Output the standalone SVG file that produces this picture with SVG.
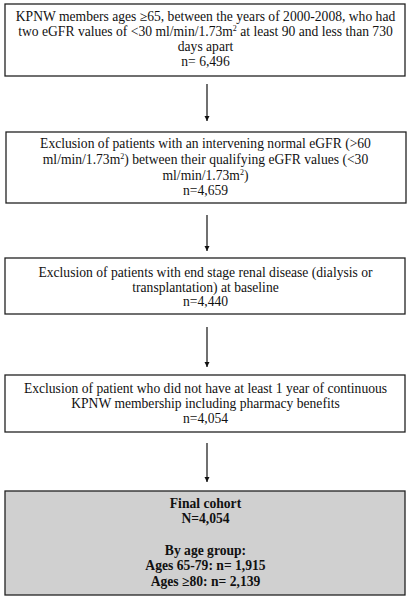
<svg xmlns="http://www.w3.org/2000/svg" width="411" height="600" viewBox="0 0 411 600">
<style>
.box{fill:#fff;stroke:#222;stroke-width:1.3}
.final{fill:#d0d0d0;stroke:#222;stroke-width:1.3}
text{font-family:"Liberation Serif","Times New Roman",serif;font-size:13.6px;fill:#111;text-anchor:middle}
.b{font-weight:bold}
.sup{font-size:8px}
.conn{stroke:#111;stroke-width:1.2;fill:none}
</style>
<defs>
<marker id="ah" viewBox="0 0 10 10" refX="10" refY="5" markerWidth="5" markerHeight="6" markerUnits="userSpaceOnUse" orient="auto">
<path d="M0,0 L10,5 L0,10 z" fill="#111"/>
</marker>
</defs>
<rect width="411" height="600" fill="#fff"/>
<g id="n1">
<rect class="box" x="5" y="4" width="400" height="72"/>
<text x="205.5" y="21">KPNW members ages ≥65, between the years of 2000-2008, who had</text>
<text x="205.5" y="36">two eGFR values of &lt;30 ml/min/1.73m<tspan class="sup" dy="-5">2</tspan><tspan dy="5"> at least 90 and less than 730</tspan></text>
<text x="205.5" y="51">days apart</text>
<text x="205.5" y="66">n= 6,496</text>
</g>
<g id="n2">
<rect class="box" x="6" y="132" width="400" height="71"/>
<text x="205.5" y="148">Exclusion of patients with an intervening normal eGFR (&gt;60</text>
<text x="205.5" y="164">ml/min/1.73m<tspan class="sup" dy="-5">2</tspan><tspan dy="5">) between their qualifying eGFR values (&lt;30</tspan></text>
<text x="205.5" y="180">ml/min/1.73m<tspan class="sup" dy="-5">2</tspan><tspan dy="5">)</tspan></text>
<text x="205.5" y="195">n=4,659</text>
</g>
<g id="n3">
<rect class="box" x="5" y="258" width="400" height="56"/>
<text x="205.5" y="277">Exclusion of patients with end stage renal disease (dialysis or</text>
<text x="205.5" y="292">transplantation) at baseline</text>
<text x="205.5" y="306">n=4,440</text>
</g>
<g id="n4">
<rect class="box" x="5" y="375" width="400" height="57"/>
<text x="205.5" y="393">Exclusion of patient who did not have at least 1 year of continuous</text>
<text x="205.5" y="408">KPNW membership including pharmacy benefits</text>
<text x="205.5" y="423">n=4,054</text>
</g>
<g id="n5">
<rect class="final" x="5" y="491" width="400" height="104"/>
<text class="b" x="205.5" y="508">Final cohort</text>
<text class="b" x="205.5" y="523">N=4,054</text>
<text class="b" x="205.5" y="555">By age group:</text>
<text class="b" x="205.5" y="570">Ages 65-79: n= 1,915</text>
<text class="b" x="205.5" y="586">Ages ≥80: n= 2,139</text>
</g>
<g id="connectors">
<line class="conn" x1="207" y1="84" x2="207" y2="121" marker-end="url(#ah)"/>
<line class="conn" x1="207" y1="215" x2="207" y2="251" marker-end="url(#ah)"/>
<line class="conn" x1="207" y1="327" x2="207" y2="367" marker-end="url(#ah)"/>
<line class="conn" x1="207" y1="443" x2="207" y2="482" marker-end="url(#ah)"/>
</g>
</svg>
